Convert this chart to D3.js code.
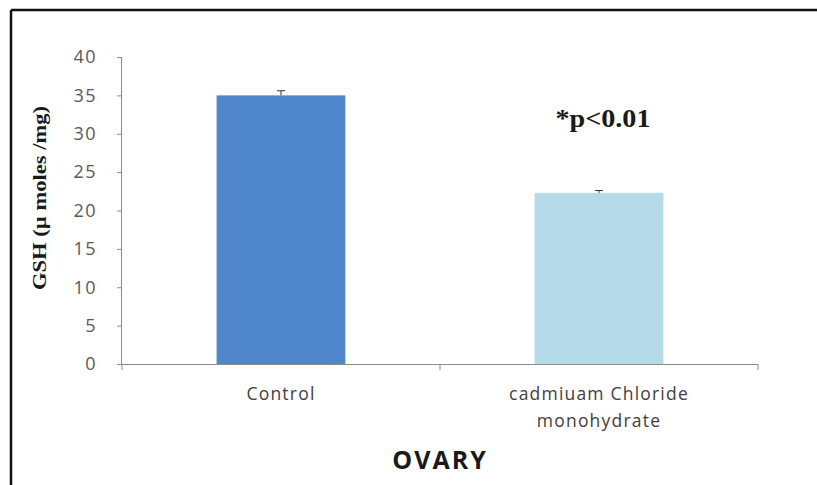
<!DOCTYPE html>
<html><head><meta charset="utf-8">
<script src="https://cdn.jsdelivr.net/npm/d3@7"></script>
<style>body{margin:0;background:#fff}svg{display:block}</style>
</head><body>
<svg id="c" width="817" height="485"></svg>
<script>
const categories = ["Control", "cadmiuam Chloride monohydrate"];
const categoryLines = [["Control"], ["cadmiuam Chloride", "monohydrate"]];
const values = [35.0, 22.3];
const errors = [0.6, 0.3];
const yTicks = [0, 5, 10, 15, 20, 25, 30, 35, 40];
const colors = ["#4f86cc", "#b5dbe8"];
const yLabel = "GSH (\u00b5 moles /mg)";
const xTitle = "OVARY";
const note = "*p<0.01";

const svg = d3.select("#c");
// frame
svg.append("line").attr("x1",11).attr("x2",817).attr("y1",10).attr("y2",10).attr("stroke","#111").attr("stroke-width",2.5);
svg.append("line").attr("x1",11).attr("x2",11).attr("y1",10).attr("y2",485).attr("stroke","#111").attr("stroke-width",2.5);

const x = d3.scaleBand().domain(categories).range([122, 758]).paddingInner(0.595).paddingOuter(0.2975);
const y = d3.scaleLinear().domain([0, 40]).range([364, 57]);

// y axis
const ya = svg.append("g").attr("transform","translate(122,0)")
  .call(d3.axisLeft(y).tickValues(yTicks).tickSize(5).tickPadding(20));
ya.select(".domain").attr("stroke","#8c8c8c").attr("d","M-0.5,57V364");
ya.selectAll(".tick line").attr("stroke","#8c8c8c");
ya.selectAll(".tick text").attr("font-family","'Open Sans', sans-serif").attr("font-size",18)
  .attr("letter-spacing",1.5).attr("fill","#595959");

// bars
svg.selectAll("rect.bar").data(values).join("rect").attr("class","bar")
  .attr("x",(d,i)=>x(categories[i])).attr("width",x.bandwidth())
  .attr("y",d=>y(d)).attr("height",d=>y(0)-y(d)).attr("fill",(d,i)=>colors[i]);

// error bars
values.forEach((v,i)=>{
  const cx = x(categories[i]) + x.bandwidth()/2;
  svg.append("line").attr("x1",cx).attr("x2",cx).attr("y1",y(v+errors[i])).attr("y2",y(v)).attr("stroke","#333");
  svg.append("line").attr("x1",cx-4).attr("x2",cx+4).attr("y1",y(v+errors[i])).attr("y2",y(v+errors[i])).attr("stroke","#333");
});

// x axis
svg.append("line").attr("x1",122).attr("x2",758).attr("y1",364.5).attr("y2",364.5).attr("stroke","#8c8c8c");
[122, 440, 758].forEach(t=>svg.append("line").attr("x1",t).attr("x2",t).attr("y1",364).attr("y2",370).attr("stroke","#8c8c8c"));

categoryLines.forEach((lines,i)=>{
  const cx = x(categories[i]) + x.bandwidth()/2;
  lines.forEach((l,j)=>svg.append("text").attr("x",cx).attr("y",400+j*27).attr("text-anchor","middle")
    .attr("font-family","'Open Sans', sans-serif").attr("font-size",17.5).attr("letter-spacing",1.2)
    .attr("fill","#404040").text(l));
});

svg.append("text").attr("x",440).attr("y",469).attr("text-anchor","middle")
  .attr("font-family","'Open Sans', sans-serif").attr("font-weight","bold").attr("font-size",25)
  .attr("letter-spacing",2).attr("fill","#1a1a1a").text(xTitle);

svg.append("text").attr("transform","translate(46,198) rotate(-90)").attr("text-anchor","middle")
  .attr("font-family","'Liberation Serif', serif").attr("font-weight","bold").attr("font-size",18)
  .attr("textLength",184).attr("lengthAdjust","spacingAndGlyphs").attr("fill","#1a1a1a").text(yLabel);

svg.append("text").attr("x",603).attr("y",127).attr("text-anchor","middle")
  .attr("font-family","'Liberation Serif', serif").attr("font-weight","bold").attr("font-size",25)
  .attr("textLength",95).attr("lengthAdjust","spacingAndGlyphs").attr("fill","#1a1a1a").text(note);
</script>
</body></html>
